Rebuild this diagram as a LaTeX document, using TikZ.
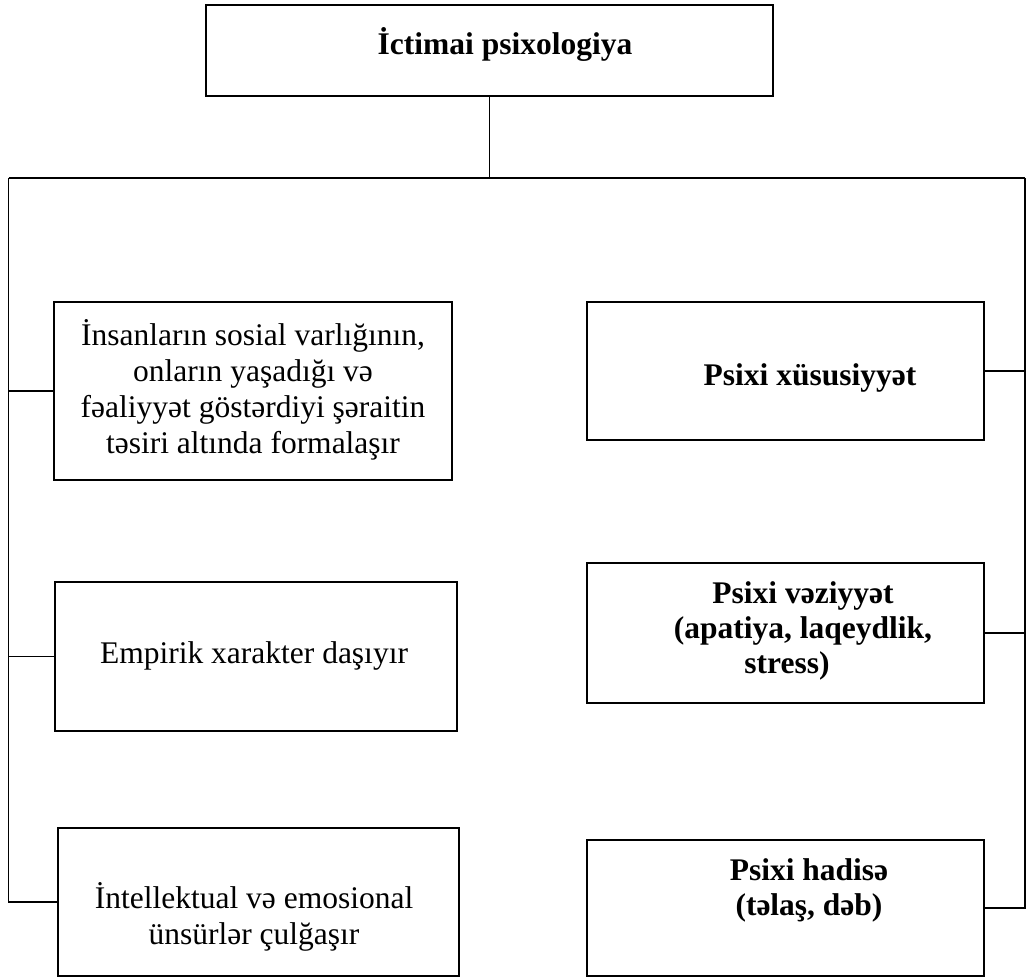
\documentclass[tikz,border=0pt]{standalone}
\usepackage{fontspec}
\setmainfont{Liberation Serif}
\begin{document}
\begin{tikzpicture}[x=1pt,y=-1pt,
  boxshape/.style={draw,line width=1.9pt,rectangle,inner sep=0pt},
  txt/.style={font=\fontsize{31.5}{36}\selectfont,align=center,inner sep=0pt},
  btxt/.style={font=\fontsize{31.5}{35}\selectfont\bfseries,align=center,inner sep=0pt},
  conn/.style={line width=1.9pt}]
\useasboundingbox (0,0) rectangle (1032,977);
% boxes
\node[boxshape,minimum width=567pt,minimum height=91pt] (top) at (489.5,50.5) {};
\node[boxshape,minimum width=398pt,minimum height=178pt] (b1) at (253,391) {};
\node[boxshape,minimum width=402pt,minimum height=149pt] (b2) at (256,656.5) {};
\node[boxshape,minimum width=401pt,minimum height=148pt] (b3) at (258.5,902) {};
\node[boxshape,minimum width=397pt,minimum height=138pt] (b4) at (785.5,371) {};
\node[boxshape,minimum width=397pt,minimum height=140pt] (b5) at (785.5,633) {};
\node[boxshape,minimum width=397pt,minimum height=136pt] (b6) at (785.5,908) {};
% texts
\node[btxt,anchor=base] (t0) at (505,54) {İctimai psixologiya};
\node[txt] (t1) at (253,390) {İnsanların sosial varlığının,\\onların yaşadığı və\\fəaliyyət göstərdiyi şəraitin\\təsiri altında formalaşır};
\node[txt,anchor=base] (t2) at (254,663) {Empirik xarakter daşıyır};
\node[txt] (t3) at (254,917) {İntellektual və emosional\\ünsürlər çulğaşır};
\node[btxt,anchor=base] (t4) at (810,385) {Psixi xüsusiyyət};
\node[btxt] (t5) at (803,631) {Psixi vəziyyət\\(apatiya, laqeydlik,\\stress)\hspace*{32pt}};
\node[btxt] (t6) at (809,890) {Psixi hadisə\\(təlaş, dəb)};
% bus coordinates
\coordinate (L) at (8.5,178);
\coordinate (R) at (1025,178);
\coordinate (Lb) at (8.5,902);
\coordinate (Rb) at (1025,908);
% connectors
\draw[conn] (top.south) -- (top.south |- L);
\draw[conn] (L) -- (R);
\draw[conn] (L) -- (Lb) -- (b3.west);
\draw[conn] (R) -- (Rb) -- (b6.east);
\draw[conn] (b1.west) -- (b1.west -| L);
\draw[conn] (b2.west) -- (b2.west -| L);
\draw[conn] (b4.east) -- (b4.east -| R);
\draw[conn] (b5.east) -- (b5.east -| R);
\end{tikzpicture}
\end{document}
